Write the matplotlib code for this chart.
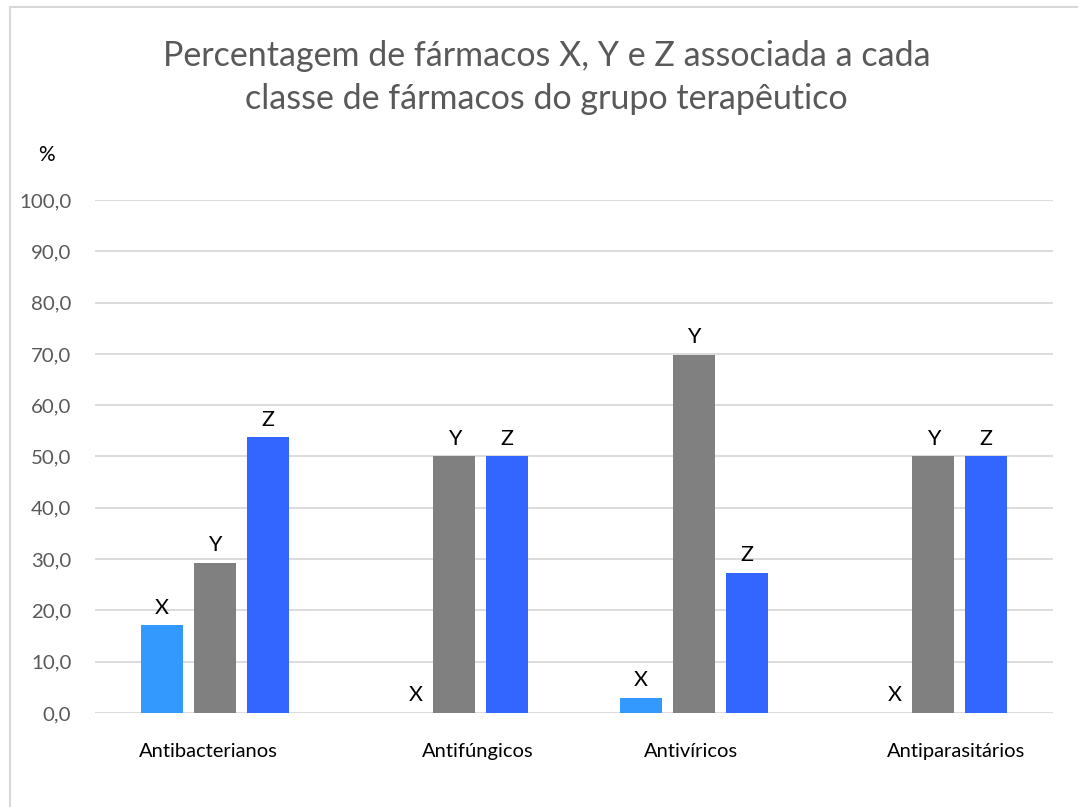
import numpy as np
import matplotlib.pyplot as plt
import matplotlib.transforms as mtransforms

categorias = ['Antibacterianos', 'Antifúngicos', 'Antivíricos', 'Antiparasitários']
series = ['X', 'Y', 'Z']
valores_x = [17.1, 0.0, 2.9, 0.0]
valores_y = [29.3, 50.0, 69.8, 50.0]
valores_z = [53.7, 50.0, 27.3, 50.0]
yticks = [0, 10, 20, 30, 40, 50, 60, 70, 80, 90, 100]

cores = ['#3399FF', '#808080', '#3366FF']
fonte = ['Lato', 'DejaVu Sans']
plt.rcParams['font.family'] = fonte

fig = plt.figure(figsize=(10.78, 8.07), dpi=100)
# moldura do grafico (so aparecem as bordas de cima e da esquerda)
fig.patches.append(plt.Rectangle((0.0093, -0.1), 1.2, 1.0913, transform=fig.transFigure,
                                 fill=False, edgecolor='#D9D9D9', linewidth=1.5))
ax = fig.add_axes([0.0881, 0.1165, 0.8887, 0.6357])

pos = np.arange(len(categorias)) + 0.5
largura = 0.175
passo = 0.221
for i, (nome, vals) in enumerate(zip(series, [valores_x, valores_y, valores_z])):
    xs = pos + (i - 1) * passo
    ax.bar(xs, vals, width=largura, color=cores[i], zorder=3)
    for x, v in zip(xs, vals):
        dx = 0.06 if v == 0 else 0
        ax.text(x + dx, v + 1.5, nome, ha='center', va='bottom', fontsize=15.5, color='black')

ax.set_xlim(0, len(categorias))
ax.set_ylim(0, 100)
ax.set_yticks(yticks)
ax.set_yticklabels([f'{t:.1f}'.replace('.', ',') for t in yticks], fontsize=14.7, color='#595959')
ax.grid(axis='y', color='#D9D9D9', linewidth=1.3, zorder=0)
ax.tick_params(axis='y', length=0, pad=17)
ax.set_xticks([])
for s in ax.spines.values():
    s.set_visible(False)

# rotulos das categorias, deslocados como no original
desloc = [-0.028, 0.099, -0.011, 0.095]
trans = mtransforms.blended_transform_factory(ax.transData, ax.transAxes)
for p, nome, d in zip(pos, categorias, desloc):
    ax.text(p + d, -0.075, nome, transform=trans, ha='center', va='center',
            fontsize=14.5, color='black')

fig.text(0.0435, 0.808, '%', fontsize=15, color='black', ha='center', va='center')
fig.suptitle('Percentagem de fármacos X, Y e Z associada a cada\nclasse de fármacos do grupo terapêutico',
             x=0.507, y=0.95, fontsize=24.5, color='#595959', linespacing=1.42)

fig.savefig('out.png', dpi=100)
